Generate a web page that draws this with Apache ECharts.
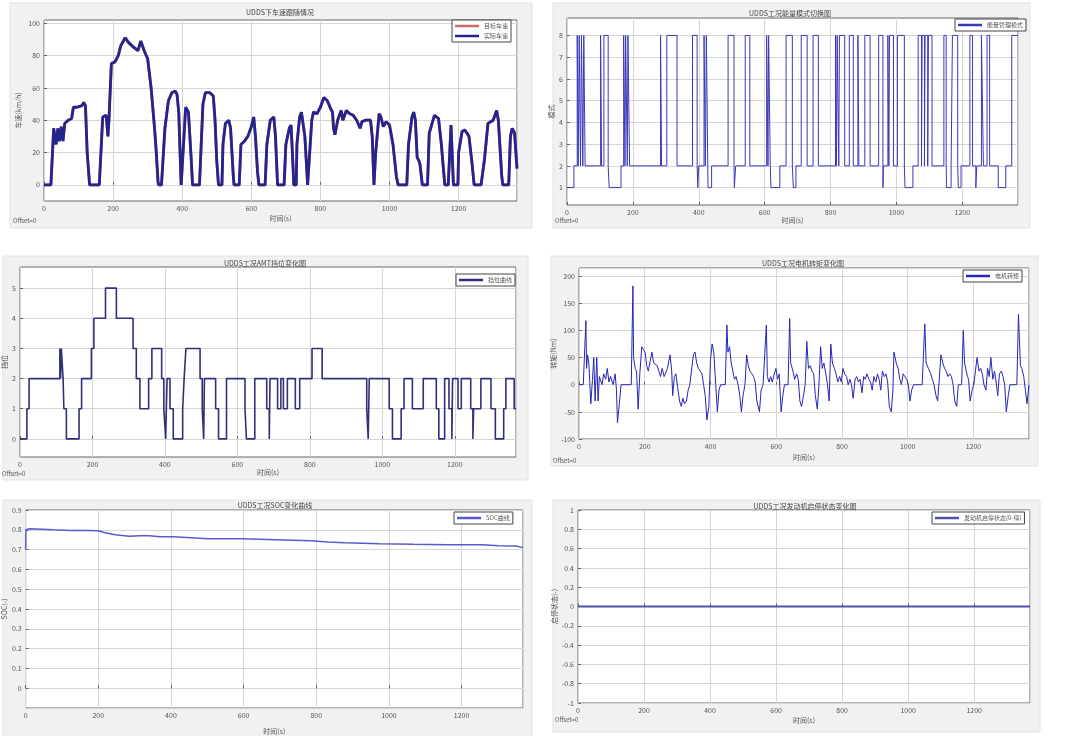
<!DOCTYPE html>
<html><head><meta charset="utf-8">
<script src="https://cdn.jsdelivr.net/npm/echarts@6/dist/echarts.min.js"></script>
<style>html,body{margin:0;padding:0;background:#fff}#c{width:1080px;height:736px}</style>
</head><body><div id="c"></div>
<script>
// ---------------- DATA ----------------
const xTickLabels = [0, 200, 400, 600, 800, 1000, 1200];
const titles = ['UDDS下车速跟随情况', 'UDDS工况能量模式切换图', 'UDDS工况AMT挡位变化图', 'UDDS工况电机转矩变化图', 'UDDS工况SOC变化曲线', 'UDDS工况发动机启停状态变化图'];
const yNames = ['车速(km/h)', '模式', '挡位', '转矩(Nm)', 'SOC(-)', '启停状态(-)'];
const xName = '时间(s)';
const legendNames = [['目标车速', '实际车速'], ['能量管理模式'], ['挡位曲线'], ['电机转矩'], ['SOC曲线'], ['发动机启停状态(0-停)']];
const speedYTicks = [0, 20, 40, 60, 80, 100];
const modeYTicks = [1, 2, 3, 4, 5, 6, 7, 8];
const gearYTicks = [0, 1, 2, 3, 4, 5];

// [time s, speed km/h]
const speedTarget = [[0,0],[20,0],[28,35],[35,25],[40,35],[45,27],[50,36],[55,27],[60,38],[70,40],[80,41],[85,48],[95,48],[110,49],[115,51],[120,49],[125,20],[132,0],[160,0],[170,42],[175,42],[180,43],[185,30],[188,40],[195,75],[205,76],[215,80],[222,86],[235,91],[245,88],[260,85],[272,83],[280,89],[290,83],[300,78],[310,60],[320,35],[325,20],[330,2],[332,0],[340,0],[350,35],[360,52],[370,57],[380,58],[385,56],[390,45],[397,0],[400,0],[410,48],[418,45],[425,20],[430,0],[450,0],[460,50],[467,57],[480,57],[490,55],[495,40],[500,15],[505,0],[515,0],[518,25],[525,38],[535,40],[540,35],[548,5],[550,0],[565,0],[570,25],[580,27],[590,30],[600,36],[607,42],[612,30],[618,8],[622,0],[640,0],[645,25],[655,40],[665,42],[670,30],[676,0],[695,0],[700,25],[710,35],[715,37],[720,15],[723,0],[730,0],[732,25],[740,42],[745,45],[750,44],[755,30],[763,0],[765,0],[775,40],[780,45],[790,44],[800,48],[810,54],[820,52],[830,47],[835,45],[838,35],[842,31],[850,40],[860,46],[865,40],[875,46],[885,44],[895,43],[905,40],[915,35],[920,39],[930,40],[945,40],[950,30],[955,0],[960,20],[970,44],[975,42],[982,36],[990,39],[1000,37],[1010,25],[1020,5],[1025,0],[1050,0],[1055,25],[1065,42],[1070,45],[1075,40],[1080,17],[1085,15],[1088,13],[1095,0],[1110,0],[1115,32],[1130,43],[1142,41],[1150,25],[1160,0],[1170,0],[1178,37],[1185,0],[1198,0],[1200,20],[1210,33],[1218,34],[1230,30],[1238,15],[1245,0],[1265,0],[1275,16],[1285,38],[1290,39],[1300,40],[1310,46],[1315,40],[1325,5],[1328,0],[1345,0],[1350,30],[1355,35],[1362,32],[1369,10]];
const speedActual = speedTarget;

// [time s, mode] change points (held until next point)
const modeData = [[0,1],[21,2],[31,8],[34,2],[37,8],[41,2],[44,8],[48,2],[51,8],[55,2],[102,8],[105,2],[112,8],[125,2],[128,1],[164,2],[172,8],[176,2],[178,8],[183,2],[185,8],[190,2],[284,8],[287,2],[303,8],[334,2],[381,8],[395,2],[397,1],[400,2],[416,8],[420,2],[423,8],[428,1],[439,2],[489,8],[507,2],[508,1],[512,2],[541,8],[555,2],[606,8],[610,2],[612,8],[617,2],[619,1],[646,2],[665,8],[684,2],[687,1],[695,2],[711,8],[729,2],[747,8],[763,2],[815,8],[818,2],[820,8],[825,2],[827,8],[843,2],[857,8],[869,2],[883,8],[886,2],[904,8],[920,2],[946,8],[959,1],[961,2],[974,8],[977,2],[979,8],[991,2],[1003,8],[1024,2],[1026,1],[1050,2],[1066,8],[1076,2],[1078,8],[1085,2],[1087,8],[1095,2],[1097,8],[1108,2],[1144,8],[1151,2],[1152,1],[1166,2],[1170,8],[1186,2],[1188,1],[1196,2],[1223,8],[1231,2],[1241,1],[1244,2],[1258,8],[1264,2],[1275,8],[1283,2],[1309,1],[1332,2],[1350,8],[1369,8]];

// [time s, gear] change points
const gearData = [[0,0],[19,1],[25,2],[110,3],[112,2],[114,3],[119,2],[121,1],[128,0],[163,1],[170,2],[197,3],[204,4],[236,5],[266,4],[312,3],[321,2],[331,1],[355,2],[364,3],[391,2],[397,1],[402,0],[406,2],[414,1],[423,0],[449,1],[453,2],[458,3],[497,2],[503,1],[507,0],[509,2],[540,1],[548,0],[570,2],[621,1],[625,0],[648,2],[681,1],[688,0],[690,2],[711,1],[720,2],[727,1],[738,2],[760,1],[772,2],[806,3],[834,2],[957,1],[961,0],[964,2],[1019,1],[1028,0],[1052,1],[1060,2],[1083,1],[1113,2],[1149,1],[1156,0],[1172,2],[1184,1],[1192,0],[1194,2],[1209,1],[1218,2],[1244,1],[1250,0],[1252,1],[1272,2],[1300,1],[1312,0],[1335,1],[1341,2],[1364,1],[1369,1]];

// [time s, torque Nm]
const torqueData = [[0,0],[13,0],[21,118],[23,30],[26,55],[30,40],[36,-35],[41,10],[45,50],[49,-30],[54,50],[58,-30],[62,15],[70,0],[75,20],[81,10],[86,30],[91,5],[96,15],[104,0],[110,20],[114,-10],[117,-70],[122,-40],[128,0],[159,0],[164,182],[166,50],[171,30],[175,25],[180,-45],[185,20],[191,70],[196,65],[201,60],[206,35],[211,25],[217,45],[222,60],[227,40],[238,35],[243,25],[248,15],[253,30],[259,15],[269,30],[277,55],[282,25],[285,-20],[290,15],[295,20],[300,-5],[306,-30],[311,-40],[316,-25],[321,-35],[327,-30],[332,-10],[337,0],[342,0],[348,55],[353,60],[358,40],[363,30],[369,25],[374,20],[379,0],[384,-20],[389,-65],[395,-40],[400,45],[405,75],[410,60],[416,0],[421,-50],[426,-10],[431,0],[445,0],[450,110],[453,60],[458,70],[463,40],[468,25],[473,10],[478,15],[484,0],[489,-20],[494,-50],[499,-20],[505,0],[510,55],[515,35],[520,25],[526,20],[531,15],[536,5],[541,-30],[549,-50],[554,-10],[560,0],[564,0],[570,110],[573,15],[578,5],[583,15],[588,5],[594,20],[599,30],[604,10],[609,20],[615,-50],[620,-20],[625,0],[636,0],[641,122],[644,40],[651,25],[656,10],[662,20],[667,10],[672,-30],[677,-40],[683,-20],[688,0],[693,80],[698,30],[703,35],[709,25],[714,20],[719,-20],[725,-45],[730,0],[735,70],[740,30],[745,40],[751,20],[756,0],[761,-30],[766,75],[771,40],[777,30],[782,20],[787,5],[793,15],[798,5],[803,30],[808,20],[814,15],[819,0],[824,10],[829,0],[834,-25],[840,10],[845,15],[850,5],[855,10],[861,-15],[866,15],[871,10],[876,20],[882,10],[887,5],[892,-10],[897,15],[903,5],[908,20],[913,10],[918,-10],[923,25],[929,15],[934,20],[939,5],[944,-40],[950,-50],[955,-10],[958,60],[962,50],[965,40],[971,30],[976,10],[981,0],[986,20],[991,20],[997,10],[1002,0],[1007,-30],[1012,-10],[1018,0],[1044,0],[1052,112],[1056,40],[1063,30],[1070,20],[1075,10],[1080,0],[1086,-20],[1091,-30],[1096,10],[1101,55],[1107,40],[1112,30],[1117,25],[1122,15],[1128,20],[1133,15],[1138,0],[1143,-30],[1149,-40],[1154,0],[1164,0],[1169,100],[1173,40],[1178,25],[1182,15],[1185,10],[1190,-30],[1196,-10],[1201,0],[1206,0],[1211,50],[1217,25],[1222,30],[1227,20],[1232,0],[1238,-10],[1243,30],[1248,15],[1253,50],[1259,10],[1264,25],[1269,5],[1274,-20],[1279,20],[1285,25],[1290,15],[1295,0],[1300,-50],[1306,-20],[1311,0],[1332,0],[1337,130],[1340,80],[1343,35],[1347,30],[1353,15],[1358,-10],[1363,-35],[1369,0]];

// [time s, SOC]
const socData = [[0,0.70],[1,0.80],[11,0.805],[77,0.80],[124,0.797],[172,0.797],[200,0.795],[219,0.785],[247,0.775],[285,0.768],[313,0.77],[341,0.77],[370,0.765],[407,0.765],[455,0.76],[502,0.755],[596,0.755],[690,0.75],[785,0.745],[832,0.738],[879,0.735],[973,0.73],[1068,0.727],[1162,0.725],[1256,0.725],[1303,0.72],[1350,0.718],[1369,0.71]];

// [time s, state]
const engineData = [[0,0],[1369,0]];

// ---------------- LAYOUT ----------------
const FONT = '"Noto Sans CJK SC","Noto Sans",sans-serif';
const panels = [
  {grid:{left:44,top:20,width:473,height:181}, frame:[10,3,522,225], tt:[280,12], off:[13,221], leg:[452,20], yGap:22, xGap:14},
  {grid:{left:567,top:18,width:451,height:187}, frame:[553,3,477,225], tt:[790,13], off:[555,221], leg:[955,19], yGap:11, xGap:12},
  {grid:{left:18,top:267,width:498,height:190}, frame:[3,256,525,224], tt:[265,263], off:[2,474], leg:[456,274], yGap:12, xGap:11},
  {grid:{left:579,top:268,width:450,height:171}, frame:[551,256,487,210], tt:[803,263], off:[553,461], leg:[963,270], yGap:20, xGap:15},
  {grid:{left:23,top:510,width:500,height:212}, frame:[3,500,529,240], tt:[275,505], off:null, leg:[454,512], yGap:17, xGap:20},
  {grid:{left:578,top:510,width:452,height:193}, frame:[553,500,487,232], tt:[805,506], off:[555,720], leg:[932,512], yGap:20, xGap:14}
];

const yCfg = [
  {min:-10, max:102, custom:speedYTicks},
  {min:0.2, max:8.8, custom:modeYTicks},
  {min:-0.6, max:5.7, custom:gearYTicks},
  {min:-100, max:215, interval:50, hideMax:true},
  {min:-0.1, max:0.9, interval:0.1, hideMin:true},
  {min:-1, max:1, interval:0.2}
];

const lab = {fontSize:7, color:'#555', fontFamily:FONT};
const grids = [], xAxes = [], yAxes = [], legends = [], graphics = [];
panels.forEach((p, i) => {
  grids.push(Object.assign({show:true, backgroundColor:'#fff', borderColor:'#666', borderWidth:1}, p.grid));
  xAxes.push({gridIndex:i, type:'value', min:0, max:1369, interval:200,
    name:xName, nameLocation:'middle', nameGap:p.xGap, nameTextStyle:{fontSize:7, color:'#555', fontFamily:FONT},
    axisLine:{show:false}, axisTick:{inside:true, length:3, lineStyle:{color:'#666'}},
    axisLabel:Object.assign({margin:4, showMaxLabel:false, formatter:v => xTickLabels.indexOf(v) >= 0 ? String(v) : ''}, lab),
    splitLine:{show:true, lineStyle:{color:'#d6d6d6', width:1}}});
  const c = yCfg[i];
  const y = {gridIndex:i, type:'value', min:c.min, max:c.max,
    name:yNames[i], nameLocation:'middle', nameGap:p.yGap, nameTextStyle:{fontSize:7, color:'#555', fontFamily:FONT},
    axisLine:{show:false}, axisTick:{inside:true, length:3, lineStyle:{color:'#666'}},
    axisLabel:Object.assign({margin:4, showMaxLabel:!c.hideMax, showMinLabel:!c.hideMin,
      formatter:v => (Math.round(v*10)/10).toString()}, lab),
    splitLine:{show:true, lineStyle:{color:'#d6d6d6', width:1}}};
  if (c.custom) { y.axisLabel.customValues = c.custom; y.axisTick.customValues = c.custom; }
  else { y.interval = c.interval; }
  yAxes.push(y);
  legends.push({left:p.leg[0], top:p.leg[1], orient:'vertical', data:legendNames[i], icon:'rect',
    backgroundColor:'#fff', borderColor:'#444', borderWidth:1, borderRadius:0, padding:[3,3], itemGap:4,
    itemWidth:24, itemHeight:2.5, textStyle:{fontSize:6, color:'#555', fontFamily:FONT}});
  graphics.push({type:'rect', z:-10, shape:{x:p.frame[0], y:p.frame[1], width:p.frame[2], height:p.frame[3]},
    style:{fill:'#f1f1f1', stroke:'#e2e2e2', lineWidth:1}});
  graphics.push({type:'text', z:10, x:p.tt[0], y:p.tt[1], style:{text:titles[i], fill:'#444', font:'7px ' + FONT, align:'center', verticalAlign:'middle'}});
  if (p.off) graphics.push({type:'text', z:10, x:p.off[0], y:p.off[1], style:{text:'Offset=0', fill:'#555', font:'6px ' + FONT, align:'left', verticalAlign:'middle'}});
});

function line(name, data, idx, color, width, step) {
  return {name, type:'line', xAxisIndex:idx, yAxisIndex:idx, data, symbol:'none', step:step || false,
    lineStyle:{color, width}, itemStyle:{color}, silent:true, z:3};
}

const series = [
  line(legendNames[0][0], speedTarget, 0, '#d06a6a', 2.8),
  line(legendNames[0][1], speedActual, 0, '#24248e', 2.8),
  line(legendNames[1][0], modeData, 1, '#3a3abd', 1, 'end'),
  line(legendNames[2][0], gearData, 2, '#30307a', 1.6, 'end'),
  line(legendNames[3][0], torqueData, 3, '#2626b6', 1),
  line(legendNames[4][0], socData, 4, '#5a5ad0', 1.5),
  line(legendNames[5][0], engineData, 5, '#5050aa', 2.2)
];

const chart = echarts.init(document.getElementById('c'), null, {renderer:'canvas'});
chart.setOption({animation:false, backgroundColor:'#fff', textStyle:{fontFamily:FONT},
  grid:grids, xAxis:xAxes, yAxis:yAxes, legend:legends, graphic:graphics, series});
</script></body></html>
